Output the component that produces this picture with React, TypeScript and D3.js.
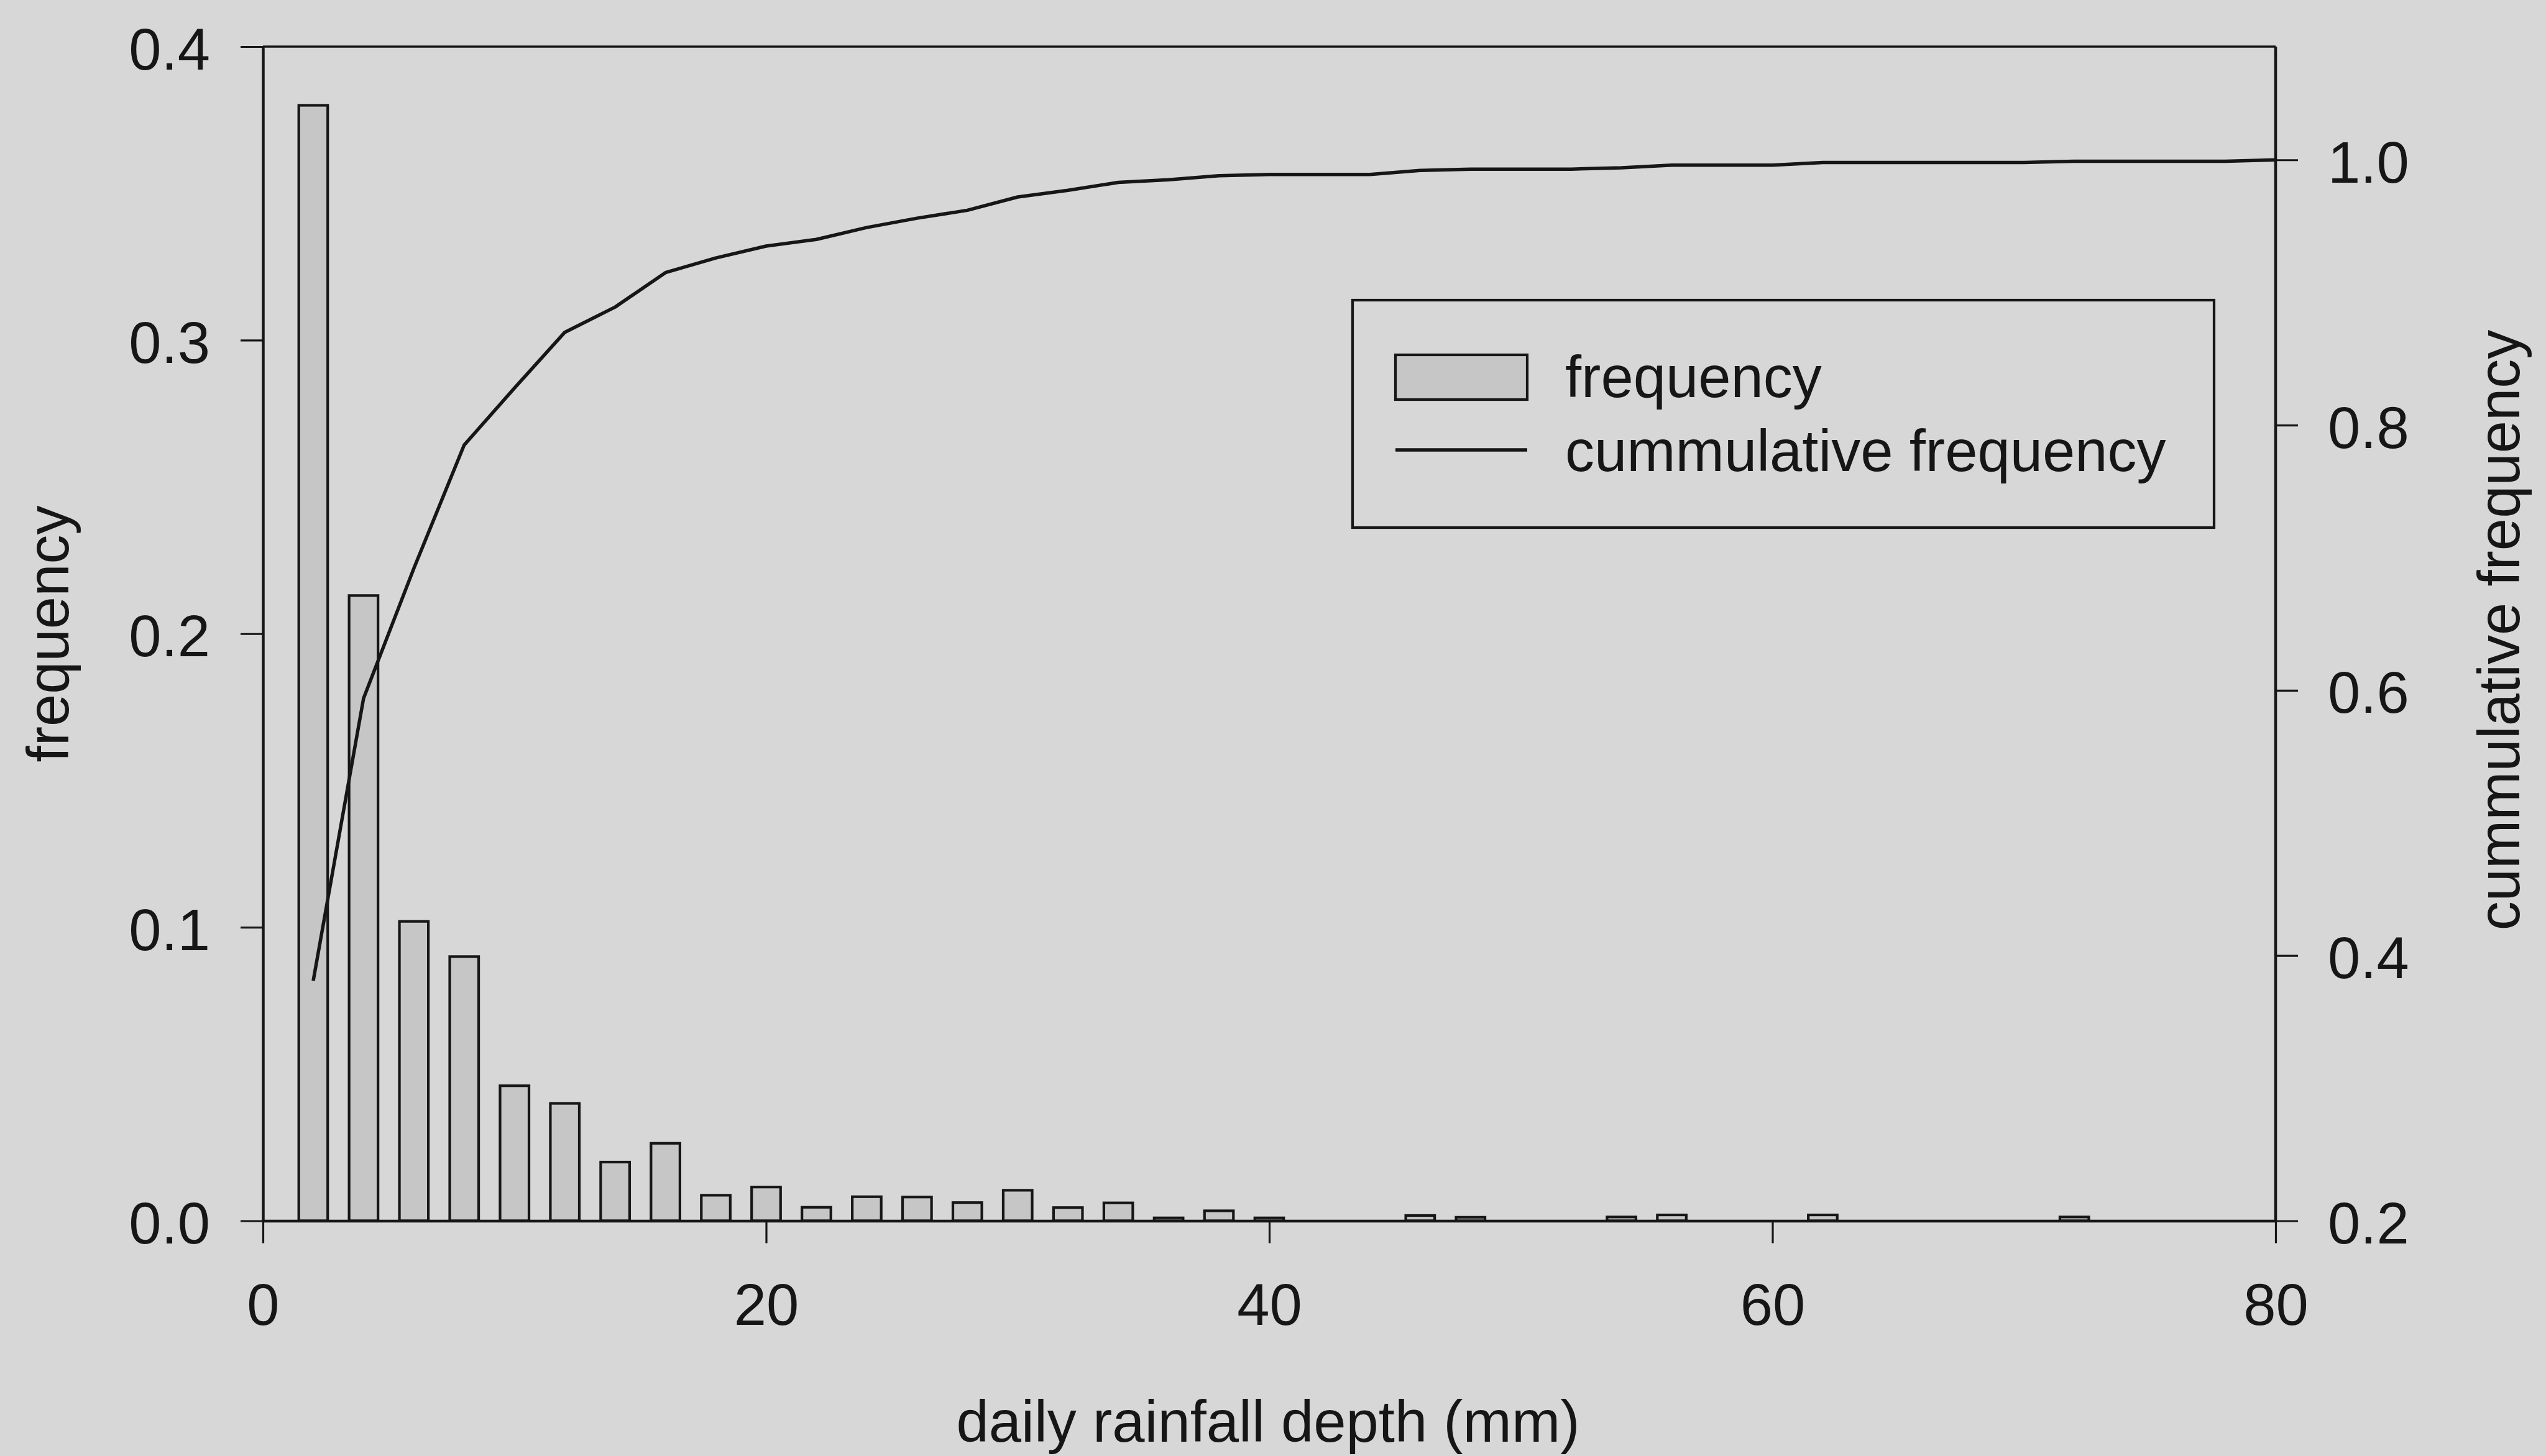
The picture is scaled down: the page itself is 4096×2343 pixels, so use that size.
import React, { useEffect, useRef } from 'react';
import * as d3 from 'd3';

// ---- data ----
const binCenters = [2, 4, 6, 8, 10, 12, 14, 16, 18, 20, 22, 24, 26, 28, 30, 32, 34, 36, 38, 40,
  42, 44, 46, 48, 50, 52, 54, 56, 58, 60, 62, 64, 66, 68, 70, 72, 74, 76, 78, 80];
const frequency = [0.380, 0.213, 0.102, 0.090, 0.046, 0.040, 0.020, 0.0264, 0.0087, 0.0115,
  0.0046, 0.0082, 0.0081, 0.0062, 0.0104, 0.0045, 0.0061, 0.0010, 0.0034, 0.0010,
  0, 0, 0.0018, 0.0012, 0, 0, 0.0013, 0.0020, 0, 0,
  0.0020, 0, 0, 0, 0, 0.0013, 0, 0, 0, 0];
const cumulative = [0.381, 0.594, 0.692, 0.785, 0.828, 0.870, 0.889, 0.915, 0.926, 0.935,
  0.940, 0.949, 0.956, 0.962, 0.972, 0.977, 0.983, 0.985, 0.988, 0.989,
  0.989, 0.989, 0.992, 0.993, 0.993, 0.993, 0.994, 0.996, 0.996, 0.996,
  0.998, 0.998, 0.998, 0.998, 0.998, 0.999, 0.999, 0.999, 0.999, 1.0];
const xTicks = [0, 20, 40, 60, 80];
const leftTicks = [0, 0.1, 0.2, 0.3, 0.4];
const rightTicks = [0.2, 0.4, 0.6, 0.8, 1.0];
const xTitle = 'daily rainfall depth (mm)';
const leftTitle = 'frequency';
const rightTitle = 'cummulative frequency';
const legendLabels = ['frequency', 'cummulative frequency'];

const W = 4096;
const H = 2343;
const FONT = '"Liberation Sans", Arial, Helvetica, sans-serif';
const FS = 94;
const INK = '#161616';
const BG = '#d7d7d7';
const BAR_FILL = '#c6c6c6';

export default function App() {
  const ref = useRef<SVGSVGElement>(null);

  useEffect(() => {
    const svg = d3.select(ref.current);
    svg.selectAll('*').remove();

    const left = 423, right = 3661, top = 75, bottom = 1964.5;

    const x = d3.scaleLinear().domain([0, 80]).range([left, right]);
    const yL = d3.scaleLinear().domain([0, 0.4]).range([bottom, top]);
    const yR = d3.scaleLinear().domain([0.2, 1.0854]).range([bottom, top]);

    svg.append('rect').attr('x', 0).attr('y', 0).attr('width', W).attr('height', H).attr('fill', BG);

    // bars
    const barW = 1.15;
    const bars = binCenters.map((c, i) => ({ c, f: frequency[i] })).filter(d => d.f > 0);
    svg.append('g')
      .selectAll('rect')
      .data(bars)
      .join('rect')
      .attr('x', d => x(d.c - barW / 2))
      .attr('width', x(barW) - x(0))
      .attr('y', d => yL(d.f))
      .attr('height', d => yL(0) - yL(d.f))
      .attr('fill', BAR_FILL)
      .attr('stroke', INK)
      .attr('stroke-width', 4.2);

    // cumulative line
    const line = d3.line<number>()
      .x((_, i) => x(binCenters[i]))
      .y(d => yR(d));
    svg.append('path')
      .attr('d', line(cumulative) as string)
      .attr('fill', 'none')
      .attr('stroke', INK)
      .attr('stroke-width', 5.5)
      .attr('stroke-linejoin', 'round');

    const styleAxis = (g: d3.Selection<SVGGElement, unknown, null, undefined>) => {
      g.attr('font-family', FONT).attr('font-size', FS);
      g.select('.domain').attr('stroke', INK).attr('stroke-width', 4.5);
      g.selectAll('.tick line').attr('stroke', INK).attr('stroke-width', 3.2);
      g.selectAll('.tick text').attr('fill', INK);
    };

    // bottom axis
    const gx = svg.append('g')
      .attr('transform', `translate(0,${bottom})`)
      .call(d3.axisBottom(x).tickValues(xTicks).tickSize(36).tickSizeOuter(0).tickFormat(d3.format('d')));
    styleAxis(gx as any);
    gx.selectAll('.tick text').attr('y', 167.5).attr('dy', null);

    // left axis
    const gl = svg.append('g')
      .attr('transform', `translate(${left},0)`)
      .call(d3.axisLeft(yL).tickValues(leftTicks).tickSize(36).tickSizeOuter(0).tickFormat(d3.format('.1f')));
    styleAxis(gl as any);
    gl.selectAll('.tick text').attr('x', -85).attr('dy', '0.383em');

    // right axis
    const gr = svg.append('g')
      .attr('transform', `translate(${right},0)`)
      .call(d3.axisRight(yR).tickValues(rightTicks).tickSize(36).tickSizeOuter(0).tickFormat(d3.format('.1f')));
    styleAxis(gr as any);
    gr.select('.domain').attr('d', `M0,${top}V${bottom}`);
    gr.selectAll('.tick text').attr('x', 84).attr('dy', '0.383em');

    // top frame line
    svg.append('line')
      .attr('x1', x(0)).attr('x2', x(80))
      .attr('y1', top).attr('y2', top)
      .attr('stroke', INK).attr('stroke-width', 3.6);

    // axis titles
    svg.append('text')
      .attr('x', 2040).attr('y', 2320)
      .attr('text-anchor', 'middle')
      .attr('font-family', FONT).attr('font-size', FS).attr('fill', INK)
      .text(xTitle);
    svg.append('text')
      .attr('transform', `translate(110,1020) rotate(-90)`)
      .attr('text-anchor', 'middle')
      .attr('font-family', FONT).attr('font-size', FS).attr('fill', INK)
      .text(leftTitle);
    svg.append('text')
      .attr('transform', `translate(4053,1014) rotate(-90)`)
      .attr('text-anchor', 'middle')
      .attr('font-family', FONT).attr('font-size', FS).attr('fill', INK)
      .text(rightTitle);

    // legend
    const lg = svg.append('g');
    lg.append('rect')
      .attr('x', 2176).attr('y', 483).attr('width', 3562 - 2176).attr('height', 849 - 483)
      .attr('fill', 'none').attr('stroke', INK).attr('stroke-width', 4.2);
    lg.append('rect')
      .attr('x', 2245).attr('y', 571).attr('width', 212).attr('height', 72)
      .attr('fill', BAR_FILL).attr('stroke', INK).attr('stroke-width', 4.2);
    lg.append('line')
      .attr('x1', 2245).attr('x2', 2457).attr('y1', 724).attr('y2', 724)
      .attr('stroke', INK).attr('stroke-width', 5.5);
    lg.selectAll('text.leg')
      .data(legendLabels)
      .join('text')
      .attr('class', 'leg')
      .attr('x', 2518)
      .attr('y', (_, i) => (i === 0 ? 639 : 758))
      .attr('font-family', FONT).attr('font-size', FS).attr('fill', INK)
      .text(d => d);
  }, []);

  return (
    <svg
      ref={ref}
      width={W}
      height={H}
      style={{ position: 'absolute', left: 0, top: 0, display: 'block' }}
    />
  );
}
